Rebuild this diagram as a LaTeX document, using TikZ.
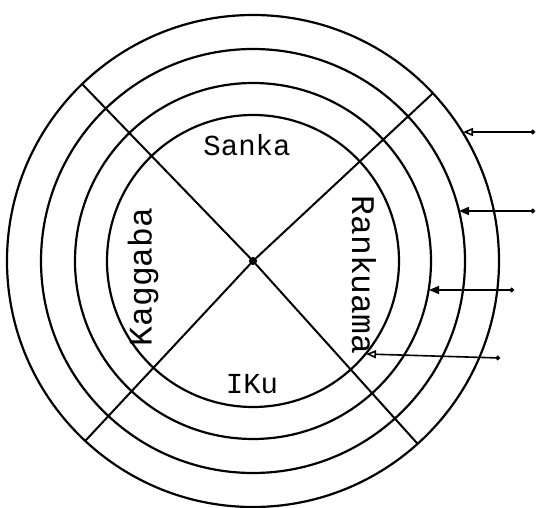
\documentclass[tikz,border=0pt]{standalone}
\usepackage{fontspec}
\setmonofont{Liberation Mono}
\usetikzlibrary{arrows.meta}

\begin{document}
\begin{tikzpicture}[x=1pt, y=1pt, line width=2pt,
  ring/.style={draw, line width=2.2pt},
  lbl/.style={font=\ttfamily\fontsize{29}{29}\selectfont, inner sep=0pt},
  openarrow/.style={{Circle[length=4.5pt]}-{Triangle[open, length=10pt, width=8pt]}, line width=1.6pt},
  fullarrow/.style={{Circle[length=4.5pt]}-{Triangle[length=10pt, width=8pt]}, line width=1.6pt}]
\useasboundingbox (-253,-247) rectangle (285,261);
% Define the rings
\draw[ring] (0,0) circle (246);
\draw[ring] (0,0) circle (212);
\draw[ring] (0,0) circle (178);
\draw[ring] (0,0) circle (146);
% Define the centre and the cross
\node[circle, draw, fill=black, inner sep=0pt, minimum size=6pt] at (0,0) (hub) {};
\foreach \a in {43,134,227,312}
  \draw (hub) -- (\a:246);
% Define the labels
\node[lbl] at (-6,116) (sanka) {Sanka};
\node[lbl] at (-1,-123) (iku) {IKu};
\node[lbl, rotate=90, font=\ttfamily\fontsize{33}{33}\selectfont] at (-110,-16) (kaggaba) {Kaggaba};
\node[lbl, rotate=-90, font=\ttfamily\fontsize{33}{33}\selectfont] at (111,-14) (rankuama) {Rankuama};
% Define the arrow ends
\coordinate (s1) at (282,129);
\coordinate (t1) at (210,129);
\coordinate (s2) at (282,50);
\coordinate (t2) at (206,50);
\coordinate (s3) at (261,-29);
\coordinate (t3) at (176,-29);
\coordinate (s4) at (247,-97);
\coordinate (t4) at (113,-93);
% Draw the arrows
\draw[openarrow] (s1) -- (t1);
\draw[fullarrow] (s2) -- (t2);
\draw[fullarrow] (s3) -- (t3);
\draw[openarrow] (s4) -- (t4);
\end{tikzpicture}
\end{document}
